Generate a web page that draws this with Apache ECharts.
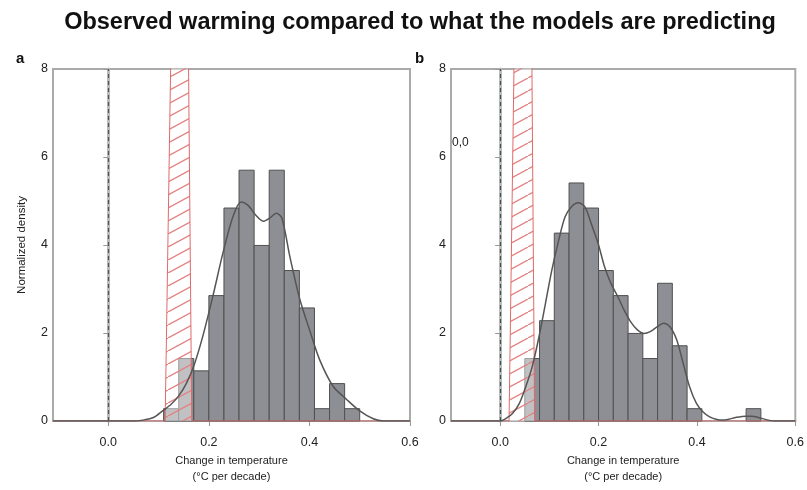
<!DOCTYPE html>
<html>
<head>
<meta charset="utf-8">
<script src="https://cdn.jsdelivr.net/npm/echarts@6/dist/echarts.min.js"></script>
<style>
html,body{margin:0;padding:0;background:#fff;}
#chart{width:807px;height:490px;}
</style>
</head>
<body>
<div id="chart"></div>
<script>
// ---------- data ----------
const titleText = 'Observed warming compared to what the models are predicting';
const xTicks = [0, 0.2, 0.4, 0.6];
const yTicks = [0, 2, 4, 6, 8];

// Panel a histogram (bin start, bin end, normalized density)
const binStartA = [0.11, 0.14, 0.17, 0.20, 0.23, 0.26, 0.29, 0.32, 0.35, 0.38, 0.41, 0.44, 0.47];
const binEndA   = [0.14, 0.17, 0.20, 0.23, 0.26, 0.29, 0.32, 0.35, 0.38, 0.41, 0.44, 0.47, 0.50];
const heightA   = [0.28, 1.42, 1.14, 2.85, 4.84, 5.70, 3.99, 5.70, 3.42, 2.57, 0.28, 0.85, 0.28];

// Panel a smoothed density curve
const curveXA = [-0.11, 0.0, 0.05, 0.068, 0.09, 0.108, 0.125, 0.14, 0.155, 0.17, 0.188, 0.208, 0.228, 0.248, 0.264, 0.278, 0.293, 0.308, 0.322, 0.334, 0.345, 0.361, 0.381, 0.40, 0.42, 0.447, 0.474, 0.50, 0.527, 0.547, 0.6];
const curveYA = [0, 0, 0, 0.02, 0.08, 0.23, 0.38, 0.57, 0.85, 1.25, 1.93, 2.84, 3.82, 4.65, 4.98, 4.90, 4.68, 4.54, 4.62, 4.72, 4.62, 3.74, 2.76, 2.08, 1.40, 0.79, 0.49, 0.23, 0.05, 0, 0];

// Panel a model distribution (red hatched)
const redXA = [-0.11, 0.113, 0.125, 0.159, 0.166, 0.6];
const redYA = [0, 0, 8.8, 8.8, 0, 0];

// Panel b histogram
const binStartB = [0.05, 0.08, 0.11, 0.14, 0.17, 0.20, 0.23, 0.26, 0.29, 0.32, 0.35, 0.38, 0.50];
const binEndB   = [0.08, 0.11, 0.14, 0.17, 0.20, 0.23, 0.26, 0.29, 0.32, 0.35, 0.38, 0.41, 0.53];
const heightB   = [1.42, 2.28, 4.27, 5.41, 4.84, 3.42, 2.85, 1.99, 1.42, 3.13, 1.71, 0.28, 0.28];

// Panel b smoothed density curve
const curveXB = [-0.1, 0.0, 0.012, 0.025, 0.039, 0.052, 0.065, 0.079, 0.092, 0.105, 0.119, 0.132, 0.145, 0.159, 0.172, 0.185, 0.199, 0.212, 0.225, 0.239, 0.252, 0.265, 0.279, 0.292, 0.305, 0.319, 0.332, 0.345, 0.359, 0.372, 0.385, 0.399, 0.412, 0.425, 0.439, 0.452, 0.465, 0.479, 0.499, 0.512, 0.525, 0.545, 0.559, 0.6];
const curveYB = [0, 0, 0.06, 0.17, 0.40, 0.78, 1.23, 1.92, 2.67, 3.43, 4.11, 4.64, 4.87, 4.96, 4.87, 4.49, 4.04, 3.51, 3.13, 2.83, 2.52, 2.26, 2.07, 1.99, 2.03, 2.14, 2.22, 2.14, 1.84, 1.31, 0.78, 0.40, 0.21, 0.10, 0.04, 0.02, 0.04, 0.08, 0.11, 0.11, 0.08, 0.02, 0, 0];

// Panel b model distribution (red hatched)
const redXB = [-0.1, 0.018, 0.029, 0.064, 0.070, 0.6];
const redYB = [0, 0, 8.8, 8.8, 0, 0];

const zeroLineX = 0;
const annotB = '0,0';

// ---------- helpers ----------
const zip3 = (a, b, c) => a.map((v, i) => [v, b[i], c[i]]);
const zip2 = (a, b) => a.map((v, i) => [v, b[i]]);

function hatchPattern() {
  const W = 24, H = 13;
  const c = document.createElement('canvas');
  c.width = W; c.height = H;
  const g = c.getContext('2d');
  g.fillStyle = 'rgba(255,255,255,0.45)';
  g.fillRect(0, 0, W, H);
  g.strokeStyle = '#e38080';
  g.lineWidth = 1.3;
  g.beginPath();
  g.moveTo(-W, 2 * H); g.lineTo(2 * W, -H);
  g.stroke();
  return { image: c, repeat: 'repeat' };
}

const narrow = "'Liberation Sans Narrow', 'Liberation Sans', Arial, sans-serif";

function renderBar(params, api) {
  const h = api.value(2);
  if (!h) return null;
  const p0 = api.coord([api.value(0), h]);
  const p1 = api.coord([api.value(1), 0]);
  return {
    type: 'rect',
    shape: { x: p0[0], y: p0[1], width: p1[0] - p0[0], height: p1[1] - p0[1] },
    style: { fill: '#8e8f94', stroke: '#505050', lineWidth: 1 }
  };
}

function xAxisDef(gi, min) {
  return {
    type: 'value', gridIndex: gi, min: min, max: 0.6,
    name: 'Change in temperature\n(°C per decade)',
    nameLocation: 'middle', nameGap: 32, nameMoveOverlap: false,
    nameTextStyle: { fontFamily: narrow, fontSize: 11, color: '#222', lineHeight: 16, verticalAlign: 'top' },
    axisLine: { show: true, onZero: false, lineStyle: { color: '#aaaaaa', width: 2 } },
    axisTick: { show: true, length: 5, customValues: xTicks, lineStyle: { color: '#999' } },
    axisLabel: { customValues: xTicks, formatter: v => v.toFixed(1), fontFamily: narrow, fontSize: 12.5, color: '#222', margin: 15 },
    splitLine: { show: false }
  };
}
function yAxisDef(gi, withName) {
  return {
    type: 'value', gridIndex: gi, min: 0, max: 8, interval: 2,
    name: withName ? 'Normalized density' : '',
    nameLocation: 'middle', nameGap: 25, nameMoveOverlap: false,
    nameTextStyle: { fontFamily: narrow, fontSize: 11.5, color: '#222' },
    axisLine: { show: true, lineStyle: { color: '#bbbbbb', width: 3 } },
    axisTick: { show: true, length: 5, lineStyle: { color: '#999' } },
    axisLabel: { fontFamily: narrow, fontSize: 12.5, color: '#222', margin: 5 },
    splitLine: { show: false }
  };
}

const pat = hatchPattern();

function panelSeries(gi, bs, be, bh, cx, cy, rx, ry, zeroColor) {
  return [
    {
      type: 'custom', xAxisIndex: gi, yAxisIndex: gi,
      renderItem: renderBar, data: zip3(bs, be, bh),
      encode: { x: [0, 1], y: 2 }, z: 2, silent: true
    },
    {
      type: 'line', xAxisIndex: gi, yAxisIndex: gi, data: zip2(rx, ry),
      showSymbol: false, smooth: false, clip: true,
      lineStyle: { color: '#e06a6a', width: 1 },
      areaStyle: { color: pat, opacity: 1 }, z: 3, silent: true
    },
    {
      type: 'line', xAxisIndex: gi, yAxisIndex: gi, data: zip2(cx, cy),
      showSymbol: false, smooth: 0.3, clip: true,
      lineStyle: { color: '#555555', width: 1.5 }, z: 4, silent: true,
      markLine: {
        symbol: 'none', silent: true, label: { show: false },
        lineStyle: { color: zeroColor, type: [4, 3], width: 1.2 },
        data: [{ xAxis: zeroLineX }]
      }
    }
  ];
}

const chart = echarts.init(document.getElementById('chart'), null, { renderer: 'canvas' });
chart.setOption({
  animation: false,
  backgroundColor: '#ffffff',
  grid: [
    { left: 53, top: 69, width: 357, height: 353, show: true, borderColor: '#aaaaaa', borderWidth: 2, containLabel: false },
    { left: 451, top: 69, width: 350, height: 352, show: true, borderColor: '#aaaaaa', borderWidth: 2, containLabel: false }
  ],
  xAxis: [xAxisDef(0, -0.11), xAxisDef(1, -0.1)],
  yAxis: [yAxisDef(0, true), yAxisDef(1, false)],
  graphic: [
    { type: 'text', style: { text: titleText, x: 420, y: 23, textAlign: 'center', textVerticalAlign: 'middle', font: 'bold 23.5px "Liberation Sans", Arial, sans-serif', fill: '#111' } },
    { type: 'text', style: { text: 'a', x: 16, y: 59, textVerticalAlign: 'middle', font: 'bold 15px ' + narrow, fill: '#111' } },
    { type: 'text', style: { text: 'b', x: 415, y: 59, textVerticalAlign: 'middle', font: 'bold 15px ' + narrow, fill: '#111' } },
    { type: 'text', style: { text: annotB, x: 452, y: 143, textVerticalAlign: 'middle', font: '12px ' + narrow, fill: '#222' } }
  ],
  series: [
    ...panelSeries(0, binStartA, binEndA, heightA, curveXA, curveYA, redXA, redYA, '#555555'),
    ...panelSeries(1, binStartB, binEndB, heightB, curveXB, curveYB, redXB, redYB, '#3f5450')
  ]
});
</script>
</body>
</html>
